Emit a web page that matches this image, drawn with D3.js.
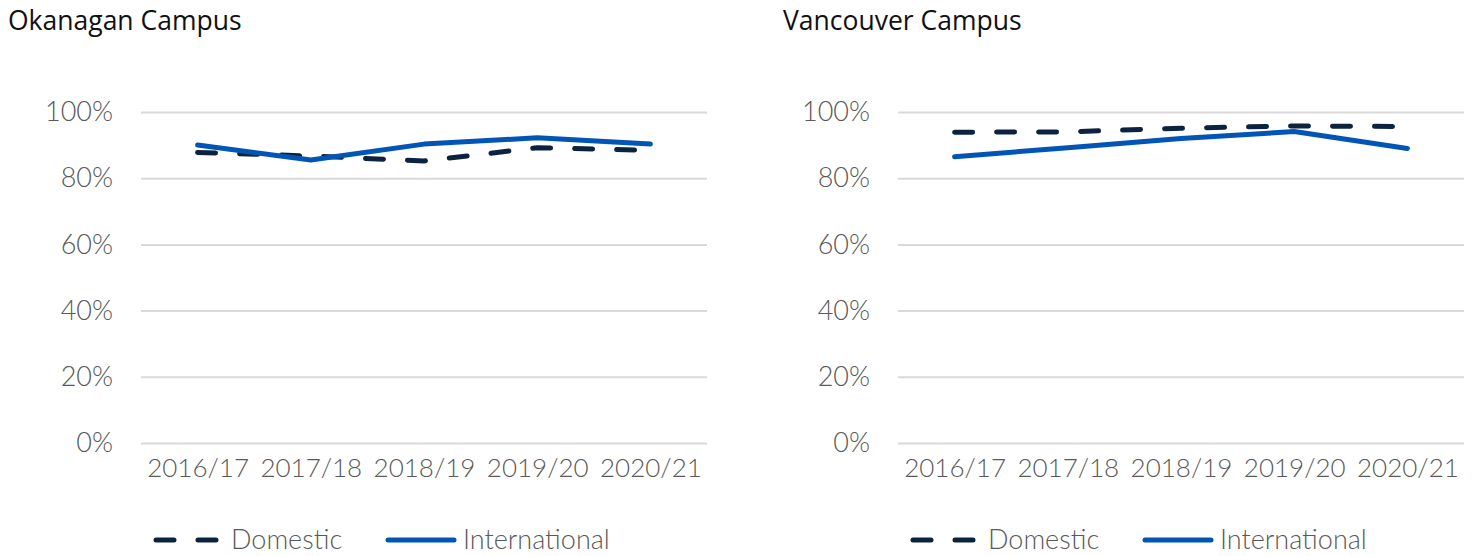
<!DOCTYPE html>
<html>
<head>
<meta charset="utf-8">
<script src="https://cdn.jsdelivr.net/npm/d3@7"></script>
<style>
  html, body { margin: 0; padding: 0; background: #fff; }
  svg { display: block; }
</style>
</head>
<body>
<svg id="chart" width="1481" height="556"></svg>
<script>
// Academic years on the x axis
const years = ["2016/17", "2017/18", "2018/19", "2019/20", "2020/21"];
// Y axis ticks (percent)
const yTicks = [0, 20, 40, 60, 80, 100];

// Okanagan Campus
const okanaganDomestic      = [87.8, 86.7, 85.2, 89.2, 88.4];
const okanaganInternational = [90.0, 85.5, 90.3, 92.2, 90.3];

// Vancouver Campus
const vancouverDomestic      = [93.9, 94.0, 95.1, 95.8, 95.6];
const vancouverInternational = [86.5, 89.2, 92.0, 94.1, 89.0];

const seriesNames = ["Domestic", "International"];

const panels = [
  { title: "Okanagan Campus",  domestic: okanaganDomestic,  international: okanaganInternational,  left: 8,   plotX0: 141, plotX1: 707 },
  { title: "Vancouver Campus", domestic: vancouverDomestic, international: vancouverInternational, left: 783, plotX0: 898, plotX1: 1464 }
];

const COLORS = { Domestic: "#0c2340", International: "#0055b7" };
const TICK_FONT = "Lato, 'Open Sans', sans-serif";
const TITLE_FONT = "'Open Sans', 'Noto Sans', sans-serif";
const plotTop = 112, plotBottom = 443;

const svg = d3.select("#chart");

panels.forEach(p => {
  const g = svg.append("g");

  const x = d3.scalePoint().domain(years).range([p.plotX0, p.plotX1]).padding(0.5);
  const y = d3.scaleLinear().domain([0, 100]).range([plotBottom, plotTop]);

  // Title
  g.append("text")
    .attr("x", p.left).attr("y", 30)
    .attr("font-family", TITLE_FONT).attr("font-size", 26.5)
    .attr("fill", "#111")
    .text(p.title);

  // Horizontal gridlines
  g.append("g")
    .attr("transform", `translate(${p.plotX0},0)`)
    .call(d3.axisLeft(y).tickValues(yTicks).tickSize(-(p.plotX1 - p.plotX0)).tickFormat(""))
    .call(a => a.select(".domain").remove())
    .call(a => a.selectAll("line").attr("stroke", "#d9d9d9").attr("stroke-width", 2));

  // Y tick labels
  g.append("g")
    .attr("transform", `translate(${p.plotX0 - 28},0)`)
    .call(d3.axisLeft(y).tickValues(yTicks).tickSize(0).tickPadding(0).tickFormat(d => d + "%"))
    .call(a => a.select(".domain").remove())
    .call(a => a.selectAll("text")
      .attr("font-family", TICK_FONT).attr("font-weight", 300)
      .attr("font-size", 27).attr("fill", "#595959"));

  // X tick labels
  g.append("g")
    .attr("transform", `translate(0,${plotBottom + 16})`)
    .call(d3.axisBottom(x).tickSize(0).tickPadding(0))
    .call(a => a.select(".domain").remove())
    .call(a => a.selectAll("text")
      .attr("font-family", TICK_FONT).attr("font-weight", 300)
      .attr("font-size", 26).attr("fill", "#595959")
      .attr("dy", "0.71em"));

  const line = d3.line().x((d, i) => x(years[i])).y(d => y(d));

  // Domestic (dashed)
  g.append("path")
    .datum(p.domestic)
    .attr("d", line)
    .attr("fill", "none")
    .attr("stroke", COLORS.Domestic)
    .attr("stroke-width", 5)
    .attr("stroke-linecap", "round")
    .attr("stroke-dasharray", "18,24");

  // International (solid)
  g.append("path")
    .datum(p.international)
    .attr("d", line)
    .attr("fill", "none")
    .attr("stroke", COLORS.International)
    .attr("stroke-width", 5)
    .attr("stroke-linecap", "round")
    .attr("stroke-linejoin", "round");

  // Legend
  const legendX = p.plotX0 + 13;
  const legendY = 540;
  const lg = g.append("g");
  const items = [
    { name: seriesNames[0], x0: legendX, dash: "18,24" },
    { name: seriesNames[1], x0: legendX + 232, dash: null }
  ];
  items.forEach(it => {
    lg.append("line")
      .attr("x1", it.x0 + 2).attr("x2", it.x0 + 68)
      .attr("y1", legendY).attr("y2", legendY)
      .attr("stroke", COLORS[it.name])
      .attr("stroke-width", 5)
      .attr("stroke-linecap", "round")
      .attr("stroke-dasharray", it.dash);
    lg.append("text")
      .attr("x", it.x0 + 77).attr("y", legendY + 9)
      .attr("font-family", TICK_FONT).attr("font-weight", 300)
      .attr("font-size", 27).attr("fill", "#595959")
      .text(it.name);
  });
});
</script>
</body>
</html>
